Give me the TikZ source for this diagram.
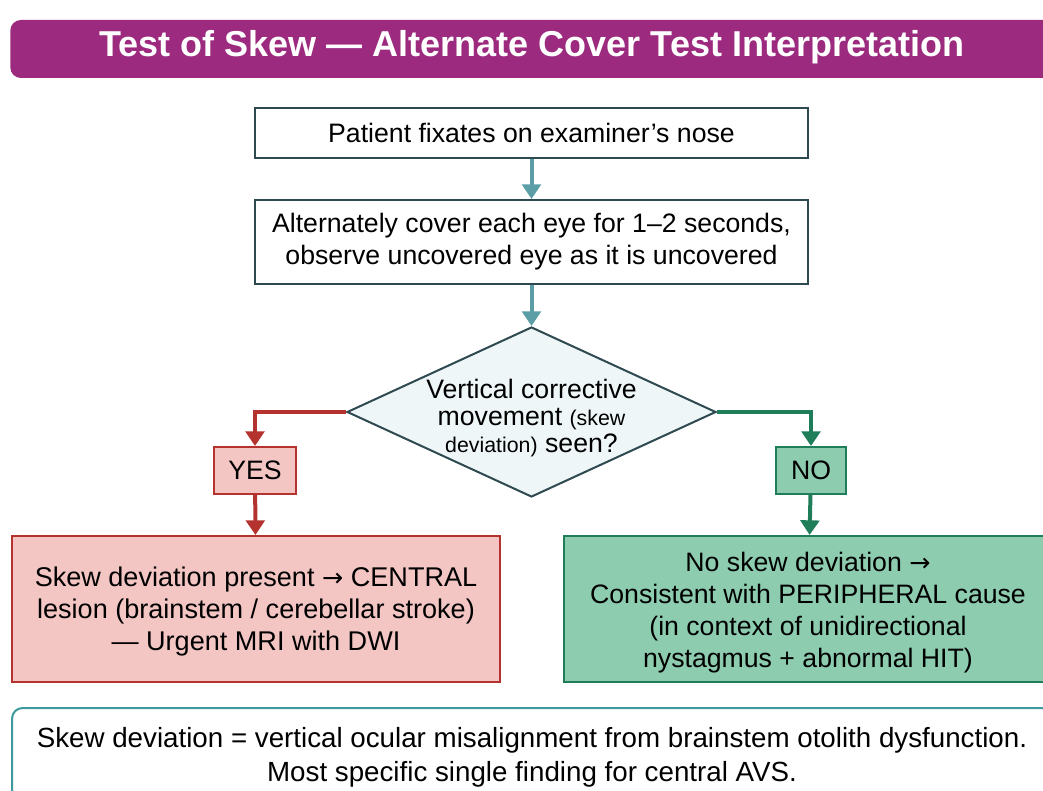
\documentclass[tikz,border=0pt]{standalone}
\usepackage{fontspec}
\setmainfont{Liberation Sans}
\newfontfamily\arrowfont{DejaVu Sans}
\usetikzlibrary{arrows.meta,shapes.geometric,positioning}
\definecolor{titlepurple}{HTML}{9C2A7E}
\definecolor{boxline}{HTML}{2E4A50}
\definecolor{flowteal}{HTML}{5B9EA6}
\definecolor{diafill}{HTML}{EEF6F8}
\definecolor{yesred}{HTML}{B5332E}
\definecolor{yesfill}{HTML}{F3C6C4}
\definecolor{nogreen}{HTML}{1F7D5A}
\definecolor{nofill}{HTML}{8DCCAF}
\definecolor{noteteal}{HTML}{3C9A9E}
\def\u{0.75pt}
\newcommand{\ra}{{\arrowfont\fontsize{19}{19}\selectfont→}}
\tikzset{
  stepbox/.style={draw=boxline, line width=1.5pt, fill=white, align=center,
    font=\fontsize{20}{24}\selectfont, inner sep=0pt},
  flowarrow/.style={line width=3pt, -{Triangle[width=14pt,length=11pt]}},
  answerbox/.style={line width=1.5pt, align=center, inner sep=0pt,
    font=\fontsize{20}{24}\selectfont, minimum height=47*\u}
}
\begin{document}
\begin{tikzpicture}[x=\u, y=-\u]
  \useasboundingbox (0,0) rectangle (1043,791);
  \clip (0,0) rectangle (1043,791);
  %%%%% title
  \node[fill=titlepurple, rounded corners=8pt, minimum width=1060*\u, minimum height=58*\u,
    anchor=west, inner sep=0pt] (titlebar) at (10,49) {};
  \node[text=white, font=\fontsize{27}{30}\selectfont\bfseries] (title) at (532,47)
    {Test of Skew — Alternate Cover Test Interpretation};
  %%%%% flow
  \node[stepbox, minimum width=553*\u, minimum height=50*\u] (fixate) at (531.5,133)
    {Patient fixates on examiner’s nose};
  \node[stepbox, minimum width=553*\u, minimum height=84*\u] (cover) at (531.5,242)
    {Alternately cover each eye for 1–2 seconds,\\observe uncovered eye as it is uncovered};
  \node[diamond, draw=boxline, line width=1.5pt, fill=diafill, aspect=2.17,
    minimum width=369*\u, minimum height=170*\u, inner sep=0pt] (skew) at (531.5,412) {};
  \node[align=center, font=\fontsize{20}{20.5}\selectfont] (skewtext) at (531.5,418)
    {Vertical corrective\\movement {\fontsize{16}{16}\selectfont(skew}\\
     {\fontsize{16}{16}\selectfont deviation)} seen?};
  \node[answerbox, draw=yesred, fill=yesfill, minimum width=82*\u] (yes) at (255,470.5) {YES};
  \node[answerbox, draw=nogreen, fill=nofill, minimum width=70*\u] (no) at (811,470.5) {NO};
  \node[stepbox, draw=yesred, fill=yesfill, minimum width=488*\u, minimum height=146*\u]
    (central) at (256,609) {};
  \node[align=center, font=\fontsize{20.3}{24}\selectfont] (centraltext) at (256,612)
    {Skew deviation present \ra{} CENTRAL\\lesion (brainstem / cerebellar stroke)\\— Urgent MRI with DWI};
  \node[stepbox, draw=nogreen, fill=nofill, minimum width=488*\u, minimum height=146*\u]
    (peripheral) at (808,609) {};
  \node[align=center, font=\fontsize{20}{24}\selectfont] (peripheraltext) at (808,613)
    {No skew deviation \ra\\Consistent with PERIPHERAL cause\\(in context of unidirectional\\nystagmus + abnormal HIT)};
  \node[stepbox, draw=noteteal, rounded corners=8pt, minimum width=1040*\u, minimum height=92*\u]
    (note) at (532,754) {};
  \node[align=center, font=\fontsize{20.8}{25.5}\selectfont] (notetext) at (532,757)
    {Skew deviation = vertical ocular misalignment from brainstem otolith dysfunction.\\Most specific single finding for central AVS.};
  %%%%% connectors
  \draw[flowarrow, flowteal] (fixate) -- (cover);
  \draw[flowarrow, flowteal] (cover) -- (skew);
  \draw[flowarrow, yesred] (skew.west) -| (yes.north);
  \draw[flowarrow, yesred] (yes) -- (central);
  \draw[flowarrow, nogreen] (skew.east) -| (no.north);
  \draw[flowarrow, nogreen] (no) -- (peripheral);
\end{tikzpicture}
\end{document}
